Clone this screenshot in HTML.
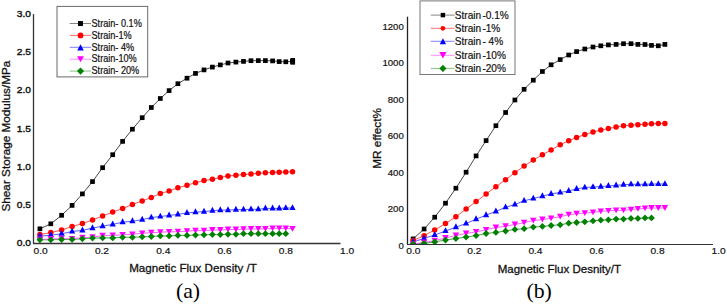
<!DOCTYPE html>
<html><head><meta charset="utf-8"><title>MR charts</title>
<style>
html,body{margin:0;padding:0;background:#fff;}
body{width:727px;height:304px;overflow:hidden;}
svg{display:block;}
text{font-family:"Liberation Sans", sans-serif;fill:#111;stroke:#111;stroke-width:0.3px;}
text.tk{stroke-width:0.42px;}
text.lg{stroke-width:0.18px;}
text.tx{stroke-width:0.2px;}
text.sf{font-family:"Liberation Serif", serif;stroke:none;fill:#000;}
</style></head>
<body>
<svg width="727" height="304" viewBox="0 0 727 304">
<defs><clipPath id="cp1"><rect x="34" y="0" width="320" height="243.3"/></clipPath><clipPath id="cp2"><rect x="408" y="0" width="319" height="244"/></clipPath></defs>
<rect x="0" y="0" width="727" height="304" fill="#fff"/>
<line x1="33.5" y1="14" x2="33.5" y2="244" stroke="#333" stroke-width="1.3"/>
<line x1="33" y1="243.5" x2="340.5" y2="243.5" stroke="#333" stroke-width="1.3"/>
<text transform="translate(31,246.25) scale(1,0.9)" text-anchor="end" font-size="10.2" class="tk">0.0</text>
<text transform="translate(31,208.02) scale(1,0.9)" text-anchor="end" font-size="10.2" class="tk">0.5</text>
<text transform="translate(31,169.79) scale(1,0.9)" text-anchor="end" font-size="10.2" class="tk">1.0</text>
<text transform="translate(31,131.56) scale(1,0.9)" text-anchor="end" font-size="10.2" class="tk">1.5</text>
<text transform="translate(31,93.33) scale(1,0.9)" text-anchor="end" font-size="10.2" class="tk">2.0</text>
<text transform="translate(31,55.10) scale(1,0.9)" text-anchor="end" font-size="10.2" class="tk">2.5</text>
<text transform="translate(31,16.87) scale(1,0.9)" text-anchor="end" font-size="10.2" class="tk">3.0</text>
<text transform="translate(33.60,254.0) scale(1,0.88)" font-size="10.2" class="tx">0.0</text>
<text transform="translate(94.88,254.0) scale(1,0.88)" font-size="10.2" class="tx">0.2</text>
<text transform="translate(156.16,254.0) scale(1,0.88)" font-size="10.2" class="tx">0.4</text>
<text transform="translate(217.44,254.0) scale(1,0.88)" font-size="10.2" class="tx">0.6</text>
<text transform="translate(278.72,254.0) scale(1,0.88)" font-size="10.2" class="tx">0.8</text>
<text transform="translate(340.00,254.0) scale(1,0.88)" font-size="10.2" class="tx">1.0</text>
<text x="129.2" y="272.2" font-size="11.6">Magnetic Flux Density /T</text>
<text transform="translate(10.0,136.1) rotate(-90)" text-anchor="middle" font-size="11.75">Shear Storage Modulus/MPa</text>
<text x="175.9" y="298.1" font-size="21.8" class="sf">(a)</text>
<g clip-path="url(#cp1)"><polyline points="39.90,239.80 50.80,239.80 61.60,239.50 72.10,239.40 82.40,238.80 92.50,238.10 102.60,237.90 112.70,237.90 122.60,237.30 132.40,237.30 142.20,236.80 151.30,236.50 160.30,235.90 169.10,235.90 177.90,235.40 187.00,235.40 195.50,235.10 204.00,234.80 212.40,234.60 220.30,234.60 228.00,234.30 235.90,234.30 243.50,233.70 251.00,233.70 258.30,233.70 265.40,233.70 272.60,233.70 279.20,233.70 285.80,233.70" fill="none" stroke="#30a030" stroke-width="0.9"/>
<polyline points="39.90,239.50 50.80,239.00 61.60,238.60 72.10,238.80 82.40,237.70 92.50,237.10 102.60,235.70 112.70,235.40 122.60,234.80 132.40,234.30 142.20,233.30 151.30,232.70 160.30,232.20 169.10,231.80 177.90,231.70 187.00,231.10 195.50,230.60 204.00,230.60 212.40,230.00 220.30,230.00 228.00,229.50 235.90,229.50 243.50,229.20 251.00,228.90 258.30,228.90 265.40,228.90 272.60,228.40 279.20,228.40 285.80,228.40 292.50,228.90" fill="none" stroke="#ff50ff" stroke-width="0.9"/>
<polyline points="39.90,236.20 50.80,235.20 61.60,233.80 72.10,231.50 82.40,230.40 92.50,228.10 102.60,226.10 112.70,224.40 122.60,222.20 132.40,221.20 142.20,219.70 151.30,217.50 160.30,216.50 169.10,215.40 177.90,214.40 187.00,212.90 195.50,212.20 204.00,211.60 212.40,210.70 220.30,210.10 228.00,210.10 235.90,209.70 243.50,209.50 251.00,209.30 258.30,209.30 265.40,208.40 272.60,208.40 279.20,208.40 285.80,208.00 292.50,208.00" fill="none" stroke="#4848ff" stroke-width="0.9"/>
<polyline points="39.90,234.50 50.80,232.60 61.60,230.10 72.10,226.50 82.40,223.60 92.50,219.90 102.60,216.00 112.70,212.10 122.60,208.50 132.40,204.40 142.20,201.00 151.30,197.40 160.30,193.50 169.10,191.00 177.90,187.80 187.00,185.20 195.50,182.70 204.00,180.50 212.40,179.30 220.30,177.50 228.00,176.00 235.90,175.20 243.50,174.60 251.00,173.90 258.30,173.30 265.40,172.80 272.60,172.40 279.20,172.20 285.80,172.00 292.50,171.80" fill="none" stroke="#ff4040" stroke-width="0.9"/>
<polyline points="39.90,228.80 50.80,223.80 61.60,215.30 72.10,205.40 82.40,193.90 92.50,181.60 102.60,167.70 112.70,154.70 122.60,141.40 132.40,129.20 142.20,117.70 151.30,107.50 160.30,98.50 169.10,90.60 177.90,83.70 187.00,78.20 195.50,73.40 204.00,69.90 212.40,67.10 220.30,64.90 228.00,63.00 235.90,62.10 243.50,61.40 251.00,60.70 258.30,60.60 265.40,60.60 272.60,60.90 279.20,61.60 285.80,61.80 292.50,61.40" fill="none" stroke="#333" stroke-width="0.9"/>
<rect x="37.55" y="226.45" width="4.70" height="4.70" fill="#000"/>
<rect x="48.45" y="221.45" width="4.70" height="4.70" fill="#000"/>
<rect x="59.25" y="212.95" width="4.70" height="4.70" fill="#000"/>
<rect x="69.75" y="203.05" width="4.70" height="4.70" fill="#000"/>
<rect x="80.05" y="191.55" width="4.70" height="4.70" fill="#000"/>
<rect x="90.15" y="179.25" width="4.70" height="4.70" fill="#000"/>
<rect x="100.25" y="165.35" width="4.70" height="4.70" fill="#000"/>
<rect x="110.35" y="152.35" width="4.70" height="4.70" fill="#000"/>
<rect x="120.25" y="139.05" width="4.70" height="4.70" fill="#000"/>
<rect x="130.05" y="126.85" width="4.70" height="4.70" fill="#000"/>
<rect x="139.85" y="115.35" width="4.70" height="4.70" fill="#000"/>
<rect x="148.95" y="105.15" width="4.70" height="4.70" fill="#000"/>
<rect x="157.95" y="96.15" width="4.70" height="4.70" fill="#000"/>
<rect x="166.75" y="88.25" width="4.70" height="4.70" fill="#000"/>
<rect x="175.55" y="81.35" width="4.70" height="4.70" fill="#000"/>
<rect x="184.65" y="75.85" width="4.70" height="4.70" fill="#000"/>
<rect x="193.15" y="71.05" width="4.70" height="4.70" fill="#000"/>
<rect x="201.65" y="67.55" width="4.70" height="4.70" fill="#000"/>
<rect x="210.05" y="64.75" width="4.70" height="4.70" fill="#000"/>
<rect x="217.95" y="62.55" width="4.70" height="4.70" fill="#000"/>
<rect x="225.65" y="60.65" width="4.70" height="4.70" fill="#000"/>
<rect x="233.55" y="59.75" width="4.70" height="4.70" fill="#000"/>
<rect x="241.15" y="59.05" width="4.70" height="4.70" fill="#000"/>
<rect x="248.65" y="58.35" width="4.70" height="4.70" fill="#000"/>
<rect x="255.95" y="58.25" width="4.70" height="4.70" fill="#000"/>
<rect x="263.05" y="58.25" width="4.70" height="4.70" fill="#000"/>
<rect x="270.25" y="58.55" width="4.70" height="4.70" fill="#000"/>
<rect x="276.85" y="59.25" width="4.70" height="4.70" fill="#000"/>
<rect x="283.45" y="59.45" width="4.70" height="4.70" fill="#000"/>
<rect x="290.15" y="59.05" width="4.70" height="4.70" fill="#000"/>
<circle cx="39.90" cy="234.50" r="2.75" fill="#ff0000"/>
<circle cx="50.80" cy="232.60" r="2.75" fill="#ff0000"/>
<circle cx="61.60" cy="230.10" r="2.75" fill="#ff0000"/>
<circle cx="72.10" cy="226.50" r="2.75" fill="#ff0000"/>
<circle cx="82.40" cy="223.60" r="2.75" fill="#ff0000"/>
<circle cx="92.50" cy="219.90" r="2.75" fill="#ff0000"/>
<circle cx="102.60" cy="216.00" r="2.75" fill="#ff0000"/>
<circle cx="112.70" cy="212.10" r="2.75" fill="#ff0000"/>
<circle cx="122.60" cy="208.50" r="2.75" fill="#ff0000"/>
<circle cx="132.40" cy="204.40" r="2.75" fill="#ff0000"/>
<circle cx="142.20" cy="201.00" r="2.75" fill="#ff0000"/>
<circle cx="151.30" cy="197.40" r="2.75" fill="#ff0000"/>
<circle cx="160.30" cy="193.50" r="2.75" fill="#ff0000"/>
<circle cx="169.10" cy="191.00" r="2.75" fill="#ff0000"/>
<circle cx="177.90" cy="187.80" r="2.75" fill="#ff0000"/>
<circle cx="187.00" cy="185.20" r="2.75" fill="#ff0000"/>
<circle cx="195.50" cy="182.70" r="2.75" fill="#ff0000"/>
<circle cx="204.00" cy="180.50" r="2.75" fill="#ff0000"/>
<circle cx="212.40" cy="179.30" r="2.75" fill="#ff0000"/>
<circle cx="220.30" cy="177.50" r="2.75" fill="#ff0000"/>
<circle cx="228.00" cy="176.00" r="2.75" fill="#ff0000"/>
<circle cx="235.90" cy="175.20" r="2.75" fill="#ff0000"/>
<circle cx="243.50" cy="174.60" r="2.75" fill="#ff0000"/>
<circle cx="251.00" cy="173.90" r="2.75" fill="#ff0000"/>
<circle cx="258.30" cy="173.30" r="2.75" fill="#ff0000"/>
<circle cx="265.40" cy="172.80" r="2.75" fill="#ff0000"/>
<circle cx="272.60" cy="172.40" r="2.75" fill="#ff0000"/>
<circle cx="279.20" cy="172.20" r="2.75" fill="#ff0000"/>
<circle cx="285.80" cy="172.00" r="2.75" fill="#ff0000"/>
<circle cx="292.50" cy="171.80" r="2.75" fill="#ff0000"/>
<polygon points="39.90,232.35 43.00,238.25 36.80,238.25" fill="#0000ff"/>
<polygon points="50.80,231.35 53.90,237.25 47.70,237.25" fill="#0000ff"/>
<polygon points="61.60,229.95 64.70,235.85 58.50,235.85" fill="#0000ff"/>
<polygon points="72.10,227.65 75.20,233.55 69.00,233.55" fill="#0000ff"/>
<polygon points="82.40,226.55 85.50,232.45 79.30,232.45" fill="#0000ff"/>
<polygon points="92.50,224.25 95.60,230.15 89.40,230.15" fill="#0000ff"/>
<polygon points="102.60,222.25 105.70,228.15 99.50,228.15" fill="#0000ff"/>
<polygon points="112.70,220.55 115.80,226.45 109.60,226.45" fill="#0000ff"/>
<polygon points="122.60,218.35 125.70,224.25 119.50,224.25" fill="#0000ff"/>
<polygon points="132.40,217.35 135.50,223.25 129.30,223.25" fill="#0000ff"/>
<polygon points="142.20,215.85 145.30,221.75 139.10,221.75" fill="#0000ff"/>
<polygon points="151.30,213.65 154.40,219.55 148.20,219.55" fill="#0000ff"/>
<polygon points="160.30,212.65 163.40,218.55 157.20,218.55" fill="#0000ff"/>
<polygon points="169.10,211.55 172.20,217.45 166.00,217.45" fill="#0000ff"/>
<polygon points="177.90,210.55 181.00,216.45 174.80,216.45" fill="#0000ff"/>
<polygon points="187.00,209.05 190.10,214.95 183.90,214.95" fill="#0000ff"/>
<polygon points="195.50,208.35 198.60,214.25 192.40,214.25" fill="#0000ff"/>
<polygon points="204.00,207.75 207.10,213.65 200.90,213.65" fill="#0000ff"/>
<polygon points="212.40,206.85 215.50,212.75 209.30,212.75" fill="#0000ff"/>
<polygon points="220.30,206.25 223.40,212.15 217.20,212.15" fill="#0000ff"/>
<polygon points="228.00,206.25 231.10,212.15 224.90,212.15" fill="#0000ff"/>
<polygon points="235.90,205.85 239.00,211.75 232.80,211.75" fill="#0000ff"/>
<polygon points="243.50,205.65 246.60,211.55 240.40,211.55" fill="#0000ff"/>
<polygon points="251.00,205.45 254.10,211.35 247.90,211.35" fill="#0000ff"/>
<polygon points="258.30,205.45 261.40,211.35 255.20,211.35" fill="#0000ff"/>
<polygon points="265.40,204.55 268.50,210.45 262.30,210.45" fill="#0000ff"/>
<polygon points="272.60,204.55 275.70,210.45 269.50,210.45" fill="#0000ff"/>
<polygon points="279.20,204.55 282.30,210.45 276.10,210.45" fill="#0000ff"/>
<polygon points="285.80,204.15 288.90,210.05 282.70,210.05" fill="#0000ff"/>
<polygon points="292.50,204.15 295.60,210.05 289.40,210.05" fill="#0000ff"/>
<polygon points="36.65,236.60 43.15,236.60 39.90,242.40" fill="#ff00ff"/>
<polygon points="47.55,236.10 54.05,236.10 50.80,241.90" fill="#ff00ff"/>
<polygon points="58.35,235.70 64.85,235.70 61.60,241.50" fill="#ff00ff"/>
<polygon points="68.85,235.90 75.35,235.90 72.10,241.70" fill="#ff00ff"/>
<polygon points="79.15,234.80 85.65,234.80 82.40,240.60" fill="#ff00ff"/>
<polygon points="89.25,234.20 95.75,234.20 92.50,240.00" fill="#ff00ff"/>
<polygon points="99.35,232.80 105.85,232.80 102.60,238.60" fill="#ff00ff"/>
<polygon points="109.45,232.50 115.95,232.50 112.70,238.30" fill="#ff00ff"/>
<polygon points="119.35,231.90 125.85,231.90 122.60,237.70" fill="#ff00ff"/>
<polygon points="129.15,231.40 135.65,231.40 132.40,237.20" fill="#ff00ff"/>
<polygon points="138.95,230.40 145.45,230.40 142.20,236.20" fill="#ff00ff"/>
<polygon points="148.05,229.80 154.55,229.80 151.30,235.60" fill="#ff00ff"/>
<polygon points="157.05,229.30 163.55,229.30 160.30,235.10" fill="#ff00ff"/>
<polygon points="165.85,228.90 172.35,228.90 169.10,234.70" fill="#ff00ff"/>
<polygon points="174.65,228.80 181.15,228.80 177.90,234.60" fill="#ff00ff"/>
<polygon points="183.75,228.20 190.25,228.20 187.00,234.00" fill="#ff00ff"/>
<polygon points="192.25,227.70 198.75,227.70 195.50,233.50" fill="#ff00ff"/>
<polygon points="200.75,227.70 207.25,227.70 204.00,233.50" fill="#ff00ff"/>
<polygon points="209.15,227.10 215.65,227.10 212.40,232.90" fill="#ff00ff"/>
<polygon points="217.05,227.10 223.55,227.10 220.30,232.90" fill="#ff00ff"/>
<polygon points="224.75,226.60 231.25,226.60 228.00,232.40" fill="#ff00ff"/>
<polygon points="232.65,226.60 239.15,226.60 235.90,232.40" fill="#ff00ff"/>
<polygon points="240.25,226.30 246.75,226.30 243.50,232.10" fill="#ff00ff"/>
<polygon points="247.75,226.00 254.25,226.00 251.00,231.80" fill="#ff00ff"/>
<polygon points="255.05,226.00 261.55,226.00 258.30,231.80" fill="#ff00ff"/>
<polygon points="262.15,226.00 268.65,226.00 265.40,231.80" fill="#ff00ff"/>
<polygon points="269.35,225.50 275.85,225.50 272.60,231.30" fill="#ff00ff"/>
<polygon points="275.95,225.50 282.45,225.50 279.20,231.30" fill="#ff00ff"/>
<polygon points="282.55,225.50 289.05,225.50 285.80,231.30" fill="#ff00ff"/>
<polygon points="289.25,226.00 295.75,226.00 292.50,231.80" fill="#ff00ff"/>
<polygon points="39.90,236.40 43.30,239.80 39.90,243.20 36.50,239.80" fill="#008000"/>
<polygon points="50.80,236.40 54.20,239.80 50.80,243.20 47.40,239.80" fill="#008000"/>
<polygon points="61.60,236.10 65.00,239.50 61.60,242.90 58.20,239.50" fill="#008000"/>
<polygon points="72.10,236.00 75.50,239.40 72.10,242.80 68.70,239.40" fill="#008000"/>
<polygon points="82.40,235.40 85.80,238.80 82.40,242.20 79.00,238.80" fill="#008000"/>
<polygon points="92.50,234.70 95.90,238.10 92.50,241.50 89.10,238.10" fill="#008000"/>
<polygon points="102.60,234.50 106.00,237.90 102.60,241.30 99.20,237.90" fill="#008000"/>
<polygon points="112.70,234.50 116.10,237.90 112.70,241.30 109.30,237.90" fill="#008000"/>
<polygon points="122.60,233.90 126.00,237.30 122.60,240.70 119.20,237.30" fill="#008000"/>
<polygon points="132.40,233.90 135.80,237.30 132.40,240.70 129.00,237.30" fill="#008000"/>
<polygon points="142.20,233.40 145.60,236.80 142.20,240.20 138.80,236.80" fill="#008000"/>
<polygon points="151.30,233.10 154.70,236.50 151.30,239.90 147.90,236.50" fill="#008000"/>
<polygon points="160.30,232.50 163.70,235.90 160.30,239.30 156.90,235.90" fill="#008000"/>
<polygon points="169.10,232.50 172.50,235.90 169.10,239.30 165.70,235.90" fill="#008000"/>
<polygon points="177.90,232.00 181.30,235.40 177.90,238.80 174.50,235.40" fill="#008000"/>
<polygon points="187.00,232.00 190.40,235.40 187.00,238.80 183.60,235.40" fill="#008000"/>
<polygon points="195.50,231.70 198.90,235.10 195.50,238.50 192.10,235.10" fill="#008000"/>
<polygon points="204.00,231.40 207.40,234.80 204.00,238.20 200.60,234.80" fill="#008000"/>
<polygon points="212.40,231.20 215.80,234.60 212.40,238.00 209.00,234.60" fill="#008000"/>
<polygon points="220.30,231.20 223.70,234.60 220.30,238.00 216.90,234.60" fill="#008000"/>
<polygon points="228.00,230.90 231.40,234.30 228.00,237.70 224.60,234.30" fill="#008000"/>
<polygon points="235.90,230.90 239.30,234.30 235.90,237.70 232.50,234.30" fill="#008000"/>
<polygon points="243.50,230.30 246.90,233.70 243.50,237.10 240.10,233.70" fill="#008000"/>
<polygon points="251.00,230.30 254.40,233.70 251.00,237.10 247.60,233.70" fill="#008000"/>
<polygon points="258.30,230.30 261.70,233.70 258.30,237.10 254.90,233.70" fill="#008000"/>
<polygon points="265.40,230.30 268.80,233.70 265.40,237.10 262.00,233.70" fill="#008000"/>
<polygon points="272.60,230.30 276.00,233.70 272.60,237.10 269.20,233.70" fill="#008000"/>
<polygon points="279.20,230.30 282.60,233.70 279.20,237.10 275.80,233.70" fill="#008000"/>
<polygon points="285.80,230.30 289.20,233.70 285.80,237.10 282.40,233.70" fill="#008000"/>
<rect x="290.35" y="58.05" width="4.70" height="4.70" fill="#000"/><rect x="290.35" y="59.95" width="4.70" height="4.70" fill="#000"/></g>
<rect x="57" y="6.4" width="90.7" height="70.5" fill="#fff" stroke="#6a6a6a" stroke-width="1"/>
<line x1="69.7" y1="23.50" x2="91" y2="23.50" stroke="#777" stroke-width="0.9"/>
<rect x="78.03" y="21.03" width="4.94" height="4.94" fill="#000"/>
<text transform="translate(91.5,26.70) scale(1,1.13)" font-size="9.15" class="lg">Strain- 0.1%</text>
<line x1="69.7" y1="35.40" x2="91" y2="35.40" stroke="#ff6060" stroke-width="0.9"/>
<circle cx="80.50" cy="35.40" r="2.89" fill="#ff0000"/>
<text transform="translate(91.5,38.60) scale(1,1.13)" font-size="9.15" class="lg">Strain-1%</text>
<line x1="69.7" y1="47.30" x2="91" y2="47.30" stroke="#7070ff" stroke-width="0.9"/>
<polygon points="80.50,44.20 83.75,50.40 77.25,50.40" fill="#0000ff"/>
<text transform="translate(91.5,50.50) scale(1,1.13)" font-size="9.15" class="lg">Strain- 4%</text>
<line x1="69.7" y1="59.20" x2="91" y2="59.20" stroke="#ff80ff" stroke-width="0.9"/>
<polygon points="77.09,56.16 83.91,56.16 80.50,62.25" fill="#ff00ff"/>
<text transform="translate(91.5,62.40) scale(1,1.13)" font-size="9.15" class="lg">Strain-10%</text>
<line x1="69.7" y1="71.10" x2="91" y2="71.10" stroke="#70c070" stroke-width="0.9"/>
<polygon points="80.50,67.53 84.07,71.10 80.50,74.67 76.93,71.10" fill="#008000"/>
<text transform="translate(91.5,74.30) scale(1,1.13)" font-size="9.15" class="lg">Strain- 20%</text>
<line x1="407.5" y1="16.7" x2="407.5" y2="244.5" stroke="#222" stroke-width="1.3"/>
<line x1="407" y1="244.5" x2="713" y2="244.5" stroke="#333" stroke-width="1.15"/>
<text x="403.8" y="248.50" text-anchor="end" font-size="9.6" class="tx">0</text>
<text x="403.8" y="212.00" text-anchor="end" font-size="9.6" class="tx">200</text>
<text x="403.8" y="175.50" text-anchor="end" font-size="9.6" class="tx">400</text>
<text x="403.8" y="139.00" text-anchor="end" font-size="9.6" class="tx">600</text>
<text x="403.8" y="102.50" text-anchor="end" font-size="9.6" class="tx">800</text>
<text x="403.8" y="66.00" text-anchor="end" font-size="9.6" class="tx">1000</text>
<text x="403.8" y="29.50" text-anchor="end" font-size="9.6" class="tx">1200</text>
<text transform="translate(406.30,254.0) scale(1,0.88)" font-size="10.2" class="tx">0.0</text>
<text transform="translate(467.34,254.0) scale(1,0.88)" font-size="10.2" class="tx">0.2</text>
<text transform="translate(528.38,254.0) scale(1,0.88)" font-size="10.2" class="tx">0.4</text>
<text transform="translate(589.42,254.0) scale(1,0.88)" font-size="10.2" class="tx">0.6</text>
<text transform="translate(650.46,254.0) scale(1,0.88)" font-size="10.2" class="tx">0.8</text>
<text transform="translate(711.50,254.0) scale(1,0.88)" font-size="10.2" class="tx">1.0</text>
<text x="497.7" y="273.3" font-size="11.5">Magnetic Flux Desnity/T</text>
<text transform="translate(380.5,138.4) rotate(-90)" text-anchor="middle" font-size="11.8">MR effect%</text>
<text x="526.4" y="298.1" font-size="21.8" class="sf">(b)</text>
<g clip-path="url(#cp2)"><polyline points="413.10,243.90 424.10,243.30 434.70,241.90 445.50,240.10 455.90,238.50 466.10,237.10 476.10,235.60 486.10,233.50 495.90,232.40 505.60,231.00 514.90,229.40 524.10,228.70 533.30,227.10 542.40,226.40 551.10,225.50 560.20,224.80 568.70,223.20 576.60,222.50 584.80,221.80 593.00,220.90 600.80,220.20 608.40,219.80 616.10,219.10 623.50,219.10 631.00,218.40 637.90,218.40 645.00,217.90 651.50,217.90" fill="none" stroke="#30a030" stroke-width="0.9"/>
<polyline points="413.10,244.10 424.10,242.30 434.70,240.70 445.50,238.00 455.90,235.50 466.10,233.50 476.10,231.90 486.10,229.80 495.90,227.50 505.60,226.10 514.90,224.50 524.10,222.70 533.30,220.60 542.40,219.50 551.10,218.30 560.20,216.70 568.70,214.70 576.60,213.70 584.80,213.10 593.00,212.40 600.80,211.40 608.40,210.80 616.10,210.30 623.50,210.30 631.00,209.60 637.90,208.90 645.00,208.40 651.50,208.00 658.30,208.00 664.90,208.00" fill="none" stroke="#ff50ff" stroke-width="0.9"/>
<polyline points="413.10,241.90 424.10,238.40 434.70,235.00 445.50,231.00 455.90,227.20 466.10,223.50 476.10,219.20 486.10,215.10 495.90,211.40 505.60,207.30 514.90,204.50 524.10,200.80 533.30,198.50 542.40,196.20 551.10,193.90 560.20,192.50 568.70,190.90 576.60,188.90 584.80,187.50 593.00,187.00 600.80,186.60 608.40,185.90 616.10,185.40 623.50,184.70 631.00,184.30 637.90,184.30 645.00,184.30 651.50,184.00 658.30,184.00 664.90,184.00" fill="none" stroke="#4848ff" stroke-width="0.9"/>
<polyline points="413.10,240.50 424.10,235.70 434.70,229.90 445.50,223.60 455.90,216.70 466.10,209.00 476.10,201.60 486.10,194.00 495.90,186.70 505.60,179.70 514.90,172.70 524.10,166.10 533.30,160.00 542.40,154.70 551.10,150.00 560.20,144.70 568.70,140.80 576.60,137.40 584.80,134.60 593.00,132.10 600.80,130.10 608.40,128.50 616.10,127.10 623.50,125.80 631.00,125.20 637.90,124.70 645.00,124.30 651.50,123.80 658.30,123.50 664.90,123.40" fill="none" stroke="#ff4040" stroke-width="0.9"/>
<polyline points="413.10,238.90 424.10,229.00 434.70,217.20 445.50,203.20 455.90,188.20 466.10,172.20 476.10,155.90 486.10,140.60 495.90,125.70 505.60,112.50 514.90,100.00 524.10,89.30 533.30,80.20 542.40,71.50 551.10,64.80 560.20,59.60 568.70,55.00 576.60,51.60 584.80,49.00 593.00,47.00 600.80,45.80 608.40,44.90 616.10,44.40 623.50,43.70 631.00,43.70 637.90,44.40 645.00,44.50 651.50,45.40 658.30,45.80 664.90,44.40" fill="none" stroke="#333" stroke-width="0.9"/>
<rect x="410.75" y="236.55" width="4.70" height="4.70" fill="#000"/>
<rect x="421.75" y="226.65" width="4.70" height="4.70" fill="#000"/>
<rect x="432.35" y="214.85" width="4.70" height="4.70" fill="#000"/>
<rect x="443.15" y="200.85" width="4.70" height="4.70" fill="#000"/>
<rect x="453.55" y="185.85" width="4.70" height="4.70" fill="#000"/>
<rect x="463.75" y="169.85" width="4.70" height="4.70" fill="#000"/>
<rect x="473.75" y="153.55" width="4.70" height="4.70" fill="#000"/>
<rect x="483.75" y="138.25" width="4.70" height="4.70" fill="#000"/>
<rect x="493.55" y="123.35" width="4.70" height="4.70" fill="#000"/>
<rect x="503.25" y="110.15" width="4.70" height="4.70" fill="#000"/>
<rect x="512.55" y="97.65" width="4.70" height="4.70" fill="#000"/>
<rect x="521.75" y="86.95" width="4.70" height="4.70" fill="#000"/>
<rect x="530.95" y="77.85" width="4.70" height="4.70" fill="#000"/>
<rect x="540.05" y="69.15" width="4.70" height="4.70" fill="#000"/>
<rect x="548.75" y="62.45" width="4.70" height="4.70" fill="#000"/>
<rect x="557.85" y="57.25" width="4.70" height="4.70" fill="#000"/>
<rect x="566.35" y="52.65" width="4.70" height="4.70" fill="#000"/>
<rect x="574.25" y="49.25" width="4.70" height="4.70" fill="#000"/>
<rect x="582.45" y="46.65" width="4.70" height="4.70" fill="#000"/>
<rect x="590.65" y="44.65" width="4.70" height="4.70" fill="#000"/>
<rect x="598.45" y="43.45" width="4.70" height="4.70" fill="#000"/>
<rect x="606.05" y="42.55" width="4.70" height="4.70" fill="#000"/>
<rect x="613.75" y="42.05" width="4.70" height="4.70" fill="#000"/>
<rect x="621.15" y="41.35" width="4.70" height="4.70" fill="#000"/>
<rect x="628.65" y="41.35" width="4.70" height="4.70" fill="#000"/>
<rect x="635.55" y="42.05" width="4.70" height="4.70" fill="#000"/>
<rect x="642.65" y="42.15" width="4.70" height="4.70" fill="#000"/>
<rect x="649.15" y="43.05" width="4.70" height="4.70" fill="#000"/>
<rect x="655.95" y="43.45" width="4.70" height="4.70" fill="#000"/>
<rect x="662.55" y="42.05" width="4.70" height="4.70" fill="#000"/>
<circle cx="413.10" cy="240.50" r="2.75" fill="#ff0000"/>
<circle cx="424.10" cy="235.70" r="2.75" fill="#ff0000"/>
<circle cx="434.70" cy="229.90" r="2.75" fill="#ff0000"/>
<circle cx="445.50" cy="223.60" r="2.75" fill="#ff0000"/>
<circle cx="455.90" cy="216.70" r="2.75" fill="#ff0000"/>
<circle cx="466.10" cy="209.00" r="2.75" fill="#ff0000"/>
<circle cx="476.10" cy="201.60" r="2.75" fill="#ff0000"/>
<circle cx="486.10" cy="194.00" r="2.75" fill="#ff0000"/>
<circle cx="495.90" cy="186.70" r="2.75" fill="#ff0000"/>
<circle cx="505.60" cy="179.70" r="2.75" fill="#ff0000"/>
<circle cx="514.90" cy="172.70" r="2.75" fill="#ff0000"/>
<circle cx="524.10" cy="166.10" r="2.75" fill="#ff0000"/>
<circle cx="533.30" cy="160.00" r="2.75" fill="#ff0000"/>
<circle cx="542.40" cy="154.70" r="2.75" fill="#ff0000"/>
<circle cx="551.10" cy="150.00" r="2.75" fill="#ff0000"/>
<circle cx="560.20" cy="144.70" r="2.75" fill="#ff0000"/>
<circle cx="568.70" cy="140.80" r="2.75" fill="#ff0000"/>
<circle cx="576.60" cy="137.40" r="2.75" fill="#ff0000"/>
<circle cx="584.80" cy="134.60" r="2.75" fill="#ff0000"/>
<circle cx="593.00" cy="132.10" r="2.75" fill="#ff0000"/>
<circle cx="600.80" cy="130.10" r="2.75" fill="#ff0000"/>
<circle cx="608.40" cy="128.50" r="2.75" fill="#ff0000"/>
<circle cx="616.10" cy="127.10" r="2.75" fill="#ff0000"/>
<circle cx="623.50" cy="125.80" r="2.75" fill="#ff0000"/>
<circle cx="631.00" cy="125.20" r="2.75" fill="#ff0000"/>
<circle cx="637.90" cy="124.70" r="2.75" fill="#ff0000"/>
<circle cx="645.00" cy="124.30" r="2.75" fill="#ff0000"/>
<circle cx="651.50" cy="123.80" r="2.75" fill="#ff0000"/>
<circle cx="658.30" cy="123.50" r="2.75" fill="#ff0000"/>
<circle cx="664.90" cy="123.40" r="2.75" fill="#ff0000"/>
<polygon points="413.10,238.05 416.20,243.95 410.00,243.95" fill="#0000ff"/>
<polygon points="424.10,234.55 427.20,240.45 421.00,240.45" fill="#0000ff"/>
<polygon points="434.70,231.15 437.80,237.05 431.60,237.05" fill="#0000ff"/>
<polygon points="445.50,227.15 448.60,233.05 442.40,233.05" fill="#0000ff"/>
<polygon points="455.90,223.35 459.00,229.25 452.80,229.25" fill="#0000ff"/>
<polygon points="466.10,219.65 469.20,225.55 463.00,225.55" fill="#0000ff"/>
<polygon points="476.10,215.35 479.20,221.25 473.00,221.25" fill="#0000ff"/>
<polygon points="486.10,211.25 489.20,217.15 483.00,217.15" fill="#0000ff"/>
<polygon points="495.90,207.55 499.00,213.45 492.80,213.45" fill="#0000ff"/>
<polygon points="505.60,203.45 508.70,209.35 502.50,209.35" fill="#0000ff"/>
<polygon points="514.90,200.65 518.00,206.55 511.80,206.55" fill="#0000ff"/>
<polygon points="524.10,196.95 527.20,202.85 521.00,202.85" fill="#0000ff"/>
<polygon points="533.30,194.65 536.40,200.55 530.20,200.55" fill="#0000ff"/>
<polygon points="542.40,192.35 545.50,198.25 539.30,198.25" fill="#0000ff"/>
<polygon points="551.10,190.05 554.20,195.95 548.00,195.95" fill="#0000ff"/>
<polygon points="560.20,188.65 563.30,194.55 557.10,194.55" fill="#0000ff"/>
<polygon points="568.70,187.05 571.80,192.95 565.60,192.95" fill="#0000ff"/>
<polygon points="576.60,185.05 579.70,190.95 573.50,190.95" fill="#0000ff"/>
<polygon points="584.80,183.65 587.90,189.55 581.70,189.55" fill="#0000ff"/>
<polygon points="593.00,183.15 596.10,189.05 589.90,189.05" fill="#0000ff"/>
<polygon points="600.80,182.75 603.90,188.65 597.70,188.65" fill="#0000ff"/>
<polygon points="608.40,182.05 611.50,187.95 605.30,187.95" fill="#0000ff"/>
<polygon points="616.10,181.55 619.20,187.45 613.00,187.45" fill="#0000ff"/>
<polygon points="623.50,180.85 626.60,186.75 620.40,186.75" fill="#0000ff"/>
<polygon points="631.00,180.45 634.10,186.35 627.90,186.35" fill="#0000ff"/>
<polygon points="637.90,180.45 641.00,186.35 634.80,186.35" fill="#0000ff"/>
<polygon points="645.00,180.45 648.10,186.35 641.90,186.35" fill="#0000ff"/>
<polygon points="651.50,180.15 654.60,186.05 648.40,186.05" fill="#0000ff"/>
<polygon points="658.30,180.15 661.40,186.05 655.20,186.05" fill="#0000ff"/>
<polygon points="664.90,180.15 668.00,186.05 661.80,186.05" fill="#0000ff"/>
<polygon points="409.85,241.20 416.35,241.20 413.10,247.00" fill="#ff00ff"/>
<polygon points="420.85,239.40 427.35,239.40 424.10,245.20" fill="#ff00ff"/>
<polygon points="431.45,237.80 437.95,237.80 434.70,243.60" fill="#ff00ff"/>
<polygon points="442.25,235.10 448.75,235.10 445.50,240.90" fill="#ff00ff"/>
<polygon points="452.65,232.60 459.15,232.60 455.90,238.40" fill="#ff00ff"/>
<polygon points="462.85,230.60 469.35,230.60 466.10,236.40" fill="#ff00ff"/>
<polygon points="472.85,229.00 479.35,229.00 476.10,234.80" fill="#ff00ff"/>
<polygon points="482.85,226.90 489.35,226.90 486.10,232.70" fill="#ff00ff"/>
<polygon points="492.65,224.60 499.15,224.60 495.90,230.40" fill="#ff00ff"/>
<polygon points="502.35,223.20 508.85,223.20 505.60,229.00" fill="#ff00ff"/>
<polygon points="511.65,221.60 518.15,221.60 514.90,227.40" fill="#ff00ff"/>
<polygon points="520.85,219.80 527.35,219.80 524.10,225.60" fill="#ff00ff"/>
<polygon points="530.05,217.70 536.55,217.70 533.30,223.50" fill="#ff00ff"/>
<polygon points="539.15,216.60 545.65,216.60 542.40,222.40" fill="#ff00ff"/>
<polygon points="547.85,215.40 554.35,215.40 551.10,221.20" fill="#ff00ff"/>
<polygon points="556.95,213.80 563.45,213.80 560.20,219.60" fill="#ff00ff"/>
<polygon points="565.45,211.80 571.95,211.80 568.70,217.60" fill="#ff00ff"/>
<polygon points="573.35,210.80 579.85,210.80 576.60,216.60" fill="#ff00ff"/>
<polygon points="581.55,210.20 588.05,210.20 584.80,216.00" fill="#ff00ff"/>
<polygon points="589.75,209.50 596.25,209.50 593.00,215.30" fill="#ff00ff"/>
<polygon points="597.55,208.50 604.05,208.50 600.80,214.30" fill="#ff00ff"/>
<polygon points="605.15,207.90 611.65,207.90 608.40,213.70" fill="#ff00ff"/>
<polygon points="612.85,207.40 619.35,207.40 616.10,213.20" fill="#ff00ff"/>
<polygon points="620.25,207.40 626.75,207.40 623.50,213.20" fill="#ff00ff"/>
<polygon points="627.75,206.70 634.25,206.70 631.00,212.50" fill="#ff00ff"/>
<polygon points="634.65,206.00 641.15,206.00 637.90,211.80" fill="#ff00ff"/>
<polygon points="641.75,205.50 648.25,205.50 645.00,211.30" fill="#ff00ff"/>
<polygon points="648.25,205.10 654.75,205.10 651.50,210.90" fill="#ff00ff"/>
<polygon points="655.05,205.10 661.55,205.10 658.30,210.90" fill="#ff00ff"/>
<polygon points="661.65,205.10 668.15,205.10 664.90,210.90" fill="#ff00ff"/>
<polygon points="413.10,240.50 416.50,243.90 413.10,247.30 409.70,243.90" fill="#008000"/>
<polygon points="424.10,239.90 427.50,243.30 424.10,246.70 420.70,243.30" fill="#008000"/>
<polygon points="434.70,238.50 438.10,241.90 434.70,245.30 431.30,241.90" fill="#008000"/>
<polygon points="445.50,236.70 448.90,240.10 445.50,243.50 442.10,240.10" fill="#008000"/>
<polygon points="455.90,235.10 459.30,238.50 455.90,241.90 452.50,238.50" fill="#008000"/>
<polygon points="466.10,233.70 469.50,237.10 466.10,240.50 462.70,237.10" fill="#008000"/>
<polygon points="476.10,232.20 479.50,235.60 476.10,239.00 472.70,235.60" fill="#008000"/>
<polygon points="486.10,230.10 489.50,233.50 486.10,236.90 482.70,233.50" fill="#008000"/>
<polygon points="495.90,229.00 499.30,232.40 495.90,235.80 492.50,232.40" fill="#008000"/>
<polygon points="505.60,227.60 509.00,231.00 505.60,234.40 502.20,231.00" fill="#008000"/>
<polygon points="514.90,226.00 518.30,229.40 514.90,232.80 511.50,229.40" fill="#008000"/>
<polygon points="524.10,225.30 527.50,228.70 524.10,232.10 520.70,228.70" fill="#008000"/>
<polygon points="533.30,223.70 536.70,227.10 533.30,230.50 529.90,227.10" fill="#008000"/>
<polygon points="542.40,223.00 545.80,226.40 542.40,229.80 539.00,226.40" fill="#008000"/>
<polygon points="551.10,222.10 554.50,225.50 551.10,228.90 547.70,225.50" fill="#008000"/>
<polygon points="560.20,221.40 563.60,224.80 560.20,228.20 556.80,224.80" fill="#008000"/>
<polygon points="568.70,219.80 572.10,223.20 568.70,226.60 565.30,223.20" fill="#008000"/>
<polygon points="576.60,219.10 580.00,222.50 576.60,225.90 573.20,222.50" fill="#008000"/>
<polygon points="584.80,218.40 588.20,221.80 584.80,225.20 581.40,221.80" fill="#008000"/>
<polygon points="593.00,217.50 596.40,220.90 593.00,224.30 589.60,220.90" fill="#008000"/>
<polygon points="600.80,216.80 604.20,220.20 600.80,223.60 597.40,220.20" fill="#008000"/>
<polygon points="608.40,216.40 611.80,219.80 608.40,223.20 605.00,219.80" fill="#008000"/>
<polygon points="616.10,215.70 619.50,219.10 616.10,222.50 612.70,219.10" fill="#008000"/>
<polygon points="623.50,215.70 626.90,219.10 623.50,222.50 620.10,219.10" fill="#008000"/>
<polygon points="631.00,215.00 634.40,218.40 631.00,221.80 627.60,218.40" fill="#008000"/>
<polygon points="637.90,215.00 641.30,218.40 637.90,221.80 634.50,218.40" fill="#008000"/>
<polygon points="645.00,214.50 648.40,217.90 645.00,221.30 641.60,217.90" fill="#008000"/>
<polygon points="651.50,214.50 654.90,217.90 651.50,221.30 648.10,217.90" fill="#008000"/></g>
<rect x="420" y="0.9" width="95" height="73.6" fill="#fff" stroke="#777" stroke-width="1"/>
<line x1="430.8" y1="15.10" x2="454.5" y2="15.10" stroke="#777" stroke-width="0.9"/>
<rect x="440.67" y="12.87" width="4.46" height="4.46" fill="#000"/>
<text x="454.8" y="18.70" font-size="10.1" class="lg">Strain<tspan dx="1.2">-0.1%</tspan></text>
<line x1="430.8" y1="28.30" x2="454.5" y2="28.30" stroke="#ff6060" stroke-width="0.9"/>
<circle cx="442.90" cy="28.30" r="2.34" fill="#ff0000"/>
<text x="454.8" y="31.90" font-size="10.1" class="lg">Strain<tspan dx="1.2">-1%</tspan></text>
<line x1="430.8" y1="41.30" x2="454.5" y2="41.30" stroke="#7070ff" stroke-width="0.9"/>
<polygon points="442.90,38.29 446.06,44.31 439.74,44.31" fill="#0000ff"/>
<text x="454.8" y="44.90" font-size="10.1" class="lg">Strain<tspan dx="1.2">- 4%</tspan></text>
<line x1="430.8" y1="55.30" x2="454.5" y2="55.30" stroke="#ff80ff" stroke-width="0.9"/>
<polygon points="439.32,52.11 446.47,52.11 442.90,58.49" fill="#ff00ff"/>
<text x="454.8" y="58.90" font-size="10.1" class="lg">Strain<tspan dx="1.2">-10%</tspan></text>
<line x1="430.8" y1="68.40" x2="454.5" y2="68.40" stroke="#70c070" stroke-width="0.9"/>
<polygon points="442.90,64.83 446.47,68.40 442.90,71.97 439.33,68.40" fill="#008000"/>
<text x="454.8" y="72.00" font-size="10.1" class="lg">Strain<tspan dx="1.2">-20%</tspan></text>
</svg>
</body></html>
